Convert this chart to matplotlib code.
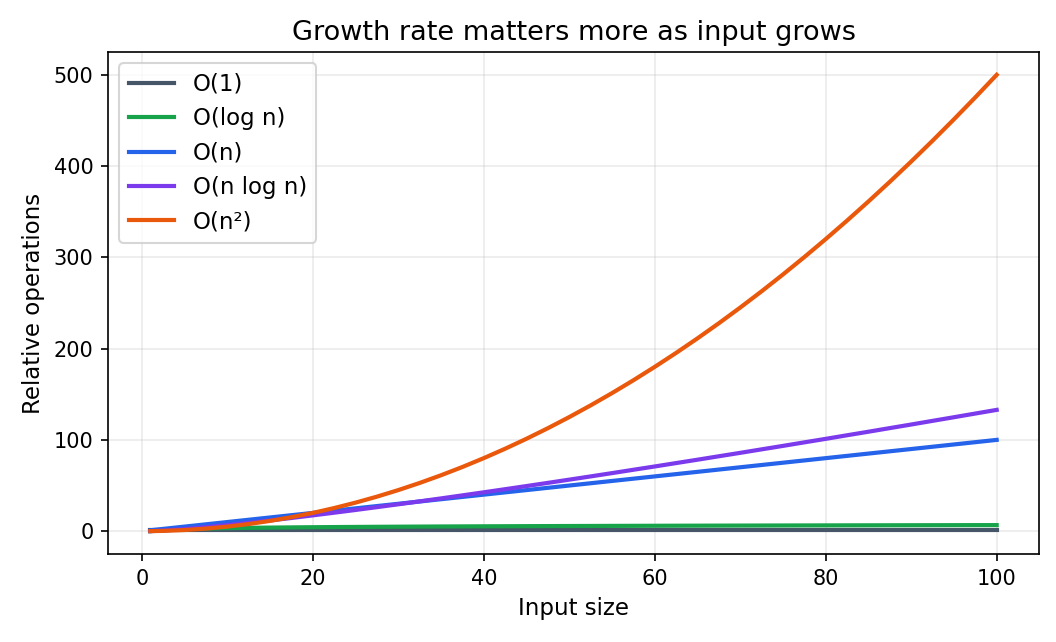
import matplotlib
matplotlib.use('Agg')
import matplotlib.pyplot as plt

# values at n = 1, 2.5, 5, ..., 100
n = [1, 2.5, 5, 7.5, 10, 12.5, 15, 17.5, 20, 22.5, 25, 27.5, 30, 32.5, 35, 37.5, 40,
     42.5, 45, 47.5, 50, 52.5, 55, 57.5, 60, 62.5, 65, 67.5, 70, 72.5, 75, 77.5, 80,
     82.5, 85, 87.5, 90, 92.5, 95, 97.5, 100]
o_const = [1] * len(n)
o_log = [0, 1.32, 2.32, 2.91, 3.32, 3.64, 3.91, 4.13, 4.32, 4.49, 4.64, 4.78, 4.91,
         5.02, 5.13, 5.23, 5.32, 5.41, 5.49, 5.57, 5.64, 5.71, 5.78, 5.85, 5.91, 5.97,
         6.02, 6.08, 6.13, 6.18, 6.23, 6.28, 6.32, 6.37, 6.41, 6.45, 6.49, 6.53, 6.57,
         6.61, 6.64]
o_lin = list(n)
o_nlog = [0, 0.66, 2.32, 4.37, 6.64, 9.11, 11.72, 14.45, 17.29, 20.22, 23.22, 26.3,
          29.44, 32.65, 35.9, 39.22, 42.58, 45.99, 49.43, 52.91, 56.44, 59.99, 63.59,
          67.26, 70.88, 74.6, 78.29, 82.06, 85.81, 89.63, 93.43, 97.3, 101.15, 105.07,
          108.96, 112.92, 116.85, 120.86, 124.83, 128.87, 132.88]
o_sq = [0.05, 0.31, 1.25, 2.81, 5, 7.81, 11.25, 15.31, 20, 25.31, 31.25, 37.81, 45,
        52.81, 61.25, 70.31, 80, 90.31, 101.25, 112.81, 125, 137.81, 151.25, 165.31,
        180, 195.31, 211.25, 227.81, 245, 262.81, 281.25, 300.31, 320, 340.31, 361.25,
        382.81, 405, 427.81, 451.25, 475.31, 500]

labels = ["O(1)", "O(log n)", "O(n)", "O(n log n)", "O(n²)"]
colors = ["#475569", "#16a34a", "#2563eb", "#7c3aed", "#ea580c"]

fig, ax = plt.subplots(figsize=(7.04, 4.28), dpi=150)
for ys, lab, c in zip([o_const, o_log, o_lin, o_nlog, o_sq], labels, colors):
    ax.plot(n, ys, label=lab, color=c, linewidth=2.0)

ax.set_title("Growth rate matters more as input grows", fontsize=13)
ax.set_xlabel("Input size", fontsize=11)
ax.set_ylabel("Relative operations", fontsize=11)
ax.grid(True, alpha=0.25)
ax.legend(loc='upper left', fontsize=11)

fig.subplots_adjust(left=0.1023, right=0.9839, top=0.919, bottom=0.1371)
fig.savefig("out.png", dpi=150)
